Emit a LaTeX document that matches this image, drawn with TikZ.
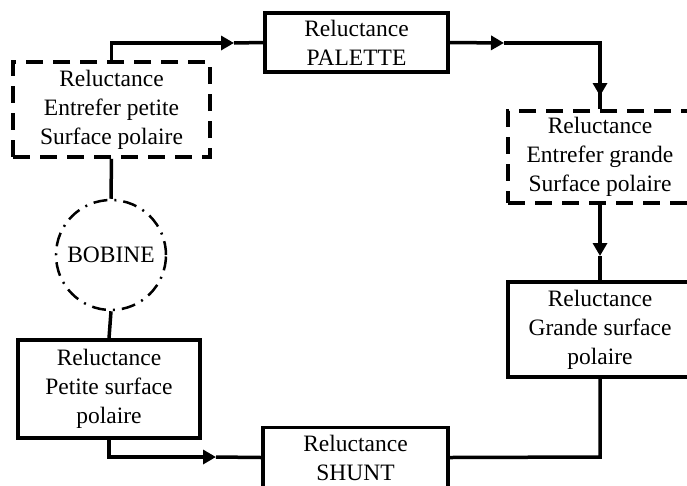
\documentclass[tikz,border=0pt]{standalone}
\usepackage{fontspec}
\setmainfont{Liberation Serif}
\usetikzlibrary{arrows.meta}
\begin{document}
\begin{tikzpicture}[x=1pt,y=-1pt,
  every node/.style={font=\fontsize{23.5}{29}\selectfont, align=center, inner sep=0pt},
  solidbox/.style={draw, line width=3.5pt, rectangle},
  dashbox/.style={draw, line width=3.5pt, rectangle, dash pattern=on 17pt off 10pt},
  conn/.style={line width=3.5pt},
  arr/.style={line width=3.5pt, -{Triangle[length=13pt,width=14pt]}},
  coil/.style={draw, circle, line width=2.5pt, dash pattern=on 14pt off 7pt on 2pt off 7pt}]
\useasboundingbox (0,0) rectangle (687,485);
\node[dashbox, minimum width=197pt, minimum height=95pt] (tl) at (111.5,109.5)
  {Reluctance\\Entrefer petite\\Surface polaire};
\node[solidbox, minimum width=183pt, minimum height=59pt] (pal) at (356.5,42.5)
  {Reluctance\\PALETTE};
\node[dashbox, minimum width=184pt, minimum height=92pt] (tr) at (600,157)
  {Reluctance\\Entrefer grande\\Surface polaire};
\node[solidbox, minimum width=184pt, minimum height=95pt] (br) at (600,329.5)
  {Reluctance\\Grande surface\\polaire};
\node[solidbox, minimum width=185pt, minimum height=60pt] (shunt) at (355.5,457.5)
  {Reluctance\\SHUNT};
\node[solidbox, minimum width=182pt, minimum height=98pt] (bl) at (109,389)
  {Reluctance\\Petite surface\\polaire};
\node[coil, minimum size=110pt] (bob) at (111,255) {BOBINE};

\coordinate (a1) at (234,43);
\coordinate (c1) at (600,43);
\coordinate (a2) at (504,43);
\coordinate (a3) at (600,96);
\coordinate (a4) at (600,256);
\coordinate (c2) at (600,457);
\coordinate (a5) at (216,457);

\draw[arr] (tl.north) |- (a1);
\draw[conn] (a1) -- (pal.west);
\draw[arr] (pal.east) -- (a2);
\draw[conn] (a2) -- (c1) -- (a3);
\draw[arr] (c1) -- (a3);
\draw[conn] (a3) -- (tr.north);
\draw[arr] (tr.south) -- (a4);
\draw[conn] (a4) -- (br.north);
\draw[conn] (br.south) -- (c2) -- (shunt.east);
\draw[arr] (bl.south) |- (a5);
\draw[conn] (a5) -- (shunt.west);
\draw[conn] (tl.south) -- (bob.north);
\draw[conn] (bob.south) -- (bl.north);
\end{tikzpicture}
\end{document}
